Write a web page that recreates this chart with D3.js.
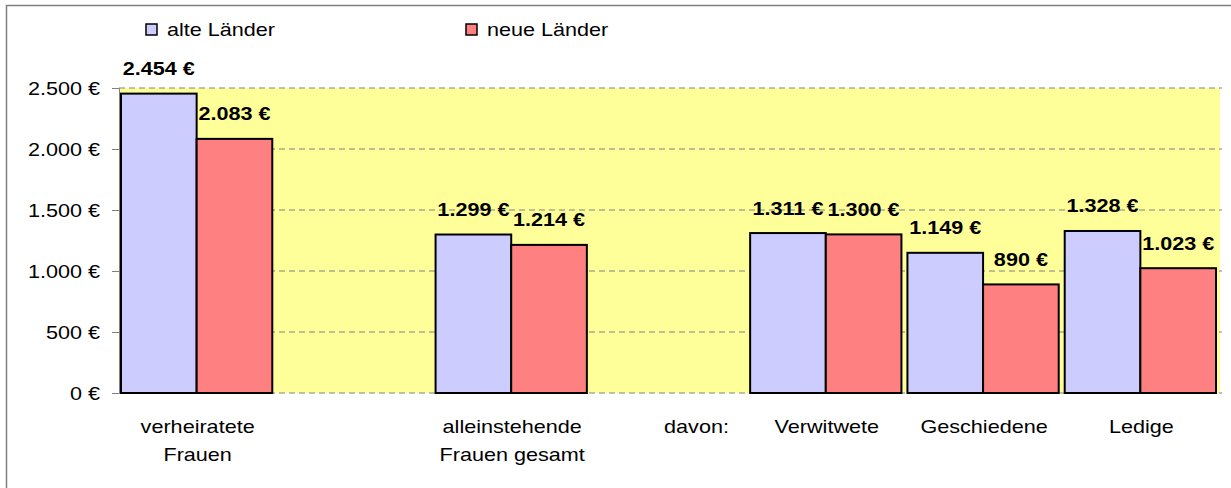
<!DOCTYPE html>
<html>
<head>
<meta charset="utf-8">
<script src="https://cdn.jsdelivr.net/npm/d3@7"></script>
<style>
  body { margin: 0; background: #fff; }
  text { font-family: "Liberation Sans", Arial, sans-serif; fill: #000; }
</style>
</head>
<body>
<div id="chart"></div>
<script>
// Data
const categories = ['verheiratete\nFrauen', 'leer', 'alleinstehende\nFrauen gesamt', 'davon:', 'Verwitwete', 'Geschiedene', 'Ledige'];
const seriesNames = ['alte Länder', 'neue Länder'];
const alteLaender = [2454, null, 1299, null, 1311, 1149, 1328];
const neueLaender = [2083, null, 1214, null, 1300, 890, 1023];
const yTicks = [0, 500, 1000, 1500, 2000, 2500];

const colors = ['#CCCCFF', '#FF8080'];
const stretch = 1.2; // the original text is drawn horizontally stretched

const W = 1231, H = 488;
const plot = {left: 119, right: 1220, top: 88, bottom: 393};

const de = d3.formatLocale({decimal: ',', thousands: '.', grouping: [3], currency: ['', ' €']});
const fmt = v => de.format(',d')(v) + ' €';

const svg = d3.select('#chart').append('svg')
  .attr('width', W)
  .attr('height', H);

// outer frame
svg.append('rect')
  .attr('x', 6.5).attr('y', 5.5)
  .attr('width', W + 20).attr('height', H + 20)
  .attr('fill', 'none')
  .attr('stroke', '#808080')
  .attr('stroke-width', 1.5);

// Scales
const x0 = d3.scaleBand().domain(d3.range(categories.length)).range([plot.left, plot.right]);
const x1 = d3.scaleBand().domain(seriesNames).range([2, x0.bandwidth() - 4]);
const y = d3.scaleLinear().domain([0, 2500]).range([plot.bottom, plot.top]);

// plot area
svg.append('rect')
  .attr('x', plot.left).attr('y', y(2500))
  .attr('width', plot.right - plot.left).attr('height', y(0) - y(2500))
  .attr('fill', '#FFFF99');

// gridlines
svg.append('g').selectAll('line')
  .data(yTicks).enter()
  .append('line')
  .attr('x1', plot.left).attr('x2', plot.right + 2)
  .attr('y1', d => y(d)).attr('y2', d => y(d))
  .attr('stroke', '#808080')
  .attr('stroke-dasharray', '6,4')
  .attr('stroke-width', 1);

// y axis
const yAxis = d3.axisLeft(y).tickValues(yTicks).tickSize(7).tickFormat('');
const yg = svg.append('g').attr('transform', 'translate(' + plot.left + ',0)').call(yAxis);
yg.select('.domain').attr('stroke', '#808080');
yg.selectAll('.tick line').attr('stroke', '#808080');

svg.append('g').selectAll('text')
  .data(yTicks).enter()
  .append('text')
  .attr('transform', d => 'translate(100,' + (y(d) + 6.5) + ') scale(' + stretch + ',1)')
  .attr('text-anchor', 'end')
  .attr('font-size', 18)
  .text(d => fmt(d));

// bars
const rows = [];
categories.forEach((c, i) => {
  [alteLaender, neueLaender].forEach((s, j) => {
    if (s[i] != null) rows.push({cat: i, series: seriesNames[j], color: colors[j], value: s[i]});
  });
});

svg.append('g').selectAll('rect')
  .data(rows).enter()
  .append('rect')
  .attr('x', d => x0(d.cat) + x1(d.series))
  .attr('y', d => y(d.value))
  .attr('width', x1.bandwidth())
  .attr('height', d => y(0) - y(d.value))
  .attr('fill', d => d.color)
  .attr('stroke', '#000')
  .attr('stroke-width', 2);

// value labels
svg.append('g').selectAll('text')
  .data(rows).enter()
  .append('text')
  .attr('transform', d => 'translate(' + (x0(d.cat) + x1(d.series) + x1.bandwidth() / 2) + ',' + (y(d.value) - 18.5) + ') scale(' + stretch + ',1)')
  .attr('text-anchor', 'middle')
  .attr('font-size', 18)
  .attr('font-weight', 'bold')
  .text(d => fmt(d.value));

// category labels
const catG = svg.append('g').selectAll('text')
  .data(categories.map((c, i) => ({c, i})).filter(d => d.c !== 'leer')).enter()
  .append('text')
  .attr('transform', d => 'translate(' + (x0(d.i) + x0.bandwidth() / 2 + (d.c === 'davon:' ? 27 : 0)) + ',433) scale(' + stretch + ',1)')
  .attr('text-anchor', 'middle')
  .attr('font-size', 18);
catG.selectAll('tspan')
  .data(d => d.c.split('\n')).enter()
  .append('tspan')
  .attr('x', 0)
  .attr('y', (d, i) => i * 28)
  .text(d => d);

// legend
const legendX = [146, 466];
const legend = svg.append('g').selectAll('g')
  .data(seriesNames).enter()
  .append('g')
  .attr('transform', (d, i) => 'translate(' + legendX[i] + ',24)');
legend.append('rect')
  .attr('width', 11).attr('height', 11)
  .attr('fill', (d, i) => colors[i])
  .attr('stroke', '#000')
  .attr('stroke-width', 1.5);
legend.append('text')
  .attr('transform', 'translate(21,12) scale(' + stretch + ',1)')
  .attr('font-size', 18)
  .text(d => d);
</script>
</body>
</html>
